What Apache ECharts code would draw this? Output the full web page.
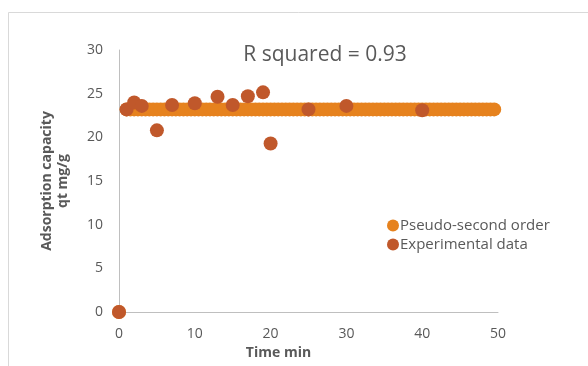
<!DOCTYPE html>
<html><head><meta charset="utf-8">
<script src="https://cdn.jsdelivr.net/npm/echarts@6/dist/echarts.min.js"></script>
<style>html,body{margin:0;padding:0;background:#fff}#c{width:588px;height:366px}</style>
</head><body><div id="c"></div>
<script>
// Experimental data
const expTime = [0, 1, 2, 3, 5, 7, 10, 13, 15, 17, 19, 20, 25, 30, 40];
const expQt   = [0, 23.2, 24.0, 23.6, 20.8, 23.7, 23.9, 24.65, 23.7, 24.7, 25.15, 19.3, 23.2, 23.6, 23.1];
// Pseudo-second order model (dense points, as plotted)
const modelTime = [0, 1, 1.5, 2, 2.5, 3, 3.5, 4, 4.5, 5, 5.5, 6, 6.5, 7, 7.5, 8, 8.5, 9, 9.5, 10, 10.5, 11, 11.5, 12, 12.5, 13, 13.5, 14, 14.5, 15, 15.5, 16, 16.5, 17, 17.5, 18, 18.5, 19, 19.5, 20, 20.5, 21, 21.5, 22, 22.5, 23, 23.5, 24, 24.5, 25, 25.5, 26, 26.5, 27, 27.5, 28, 28.5, 29, 29.5, 30, 30.5, 31, 31.5, 32, 32.5, 33, 33.5, 34, 34.5, 35, 35.5, 36, 36.5, 37, 37.5, 38, 38.5, 39, 39.5, 40, 40.5, 41, 41.5, 42, 42.5, 43, 43.5, 44, 44.5, 45, 45.5, 46, 46.5, 47, 47.5, 48, 48.5, 49, 49.5];
const modelQt   = [0, 23.2, 23.2, 23.2, 23.2, 23.2, 23.2, 23.2, 23.2, 23.2, 23.2, 23.2, 23.2, 23.2, 23.2, 23.2, 23.2, 23.2, 23.2, 23.2, 23.2, 23.2, 23.2, 23.2, 23.2, 23.2, 23.2, 23.2, 23.2, 23.2, 23.2, 23.2, 23.2, 23.2, 23.2, 23.2, 23.2, 23.2, 23.2, 23.2, 23.2, 23.2, 23.2, 23.2, 23.2, 23.2, 23.2, 23.2, 23.2, 23.2, 23.2, 23.2, 23.2, 23.2, 23.2, 23.2, 23.2, 23.2, 23.2, 23.2, 23.2, 23.2, 23.2, 23.2, 23.2, 23.2, 23.2, 23.2, 23.2, 23.2, 23.2, 23.2, 23.2, 23.2, 23.2, 23.2, 23.2, 23.2, 23.2, 23.2, 23.2, 23.2, 23.2, 23.2, 23.2, 23.2, 23.2, 23.2, 23.2, 23.2, 23.2, 23.2, 23.2, 23.2, 23.2, 23.2, 23.2, 23.2, 23.2];
const xTicks = [0, 10, 20, 30, 40, 50];
const yTicks = [0, 5, 10, 15, 20, 25, 30];
const titleText = 'R squared = 0.93';

const FONT = '"Open Sans", Lato, sans-serif';
const chart = echarts.init(document.getElementById('c'), null, {renderer: 'canvas'});
chart.setOption({
  animation: false,
  backgroundColor: '#fff',
  textStyle: {fontFamily: FONT},
  title: {
    text: titleText, left: 320, top: 40, textAlign: 'center',
    textStyle: {fontFamily: FONT, fontSize: 21, fontWeight: 'normal', color: '#595959'}
  },
  graphic: [{
    type: 'rect', shape: {x: 8.5, y: 12.5, width: 620, height: 400},
    style: {fill: 'none', stroke: '#D9D9D9', lineWidth: 1}, silent: true, z: -1
  }],
  legend: {
    orient: 'vertical', left: 382, top: 213, itemWidth: 12, itemHeight: 12, itemGap: 4,
    icon: 'circle',
    textStyle: {fontFamily: FONT, fontSize: 15, color: '#595959', padding: [0, 0, 0, -4]},
    data: ['Pseudo-second order', 'Experimental data']
  },
  grid: {left: 119, right: 90, top: 50, bottom: 54},
  xAxis: {
    type: 'value', min: xTicks[0], max: xTicks[xTicks.length - 1], interval: 10,
    name: 'Time min', nameLocation: 'middle', nameGap: 32,
    nameTextStyle: {fontFamily: FONT, fontSize: 14, fontWeight: 'bold', color: '#595959', padding: [0, 60, 0, 0]},
    axisLine: {lineStyle: {color: '#BFBFBF', width: 1}},
    axisTick: {show: false}, splitLine: {show: false},
    axisLabel: {fontFamily: FONT, fontSize: 14, color: '#595959', margin: 15}
  },
  yAxis: {
    type: 'value', min: yTicks[0], max: yTicks[yTicks.length - 1], interval: 5,
    name: 'Adsorption capacity\nqt mg/g', nameLocation: 'middle', nameGap: 48,
    nameTextStyle: {fontFamily: FONT, fontSize: 14, fontWeight: 'bold', color: '#595959', lineHeight: 16},
    axisLine: {show: true, lineStyle: {color: '#BFBFBF', width: 1}},
    axisTick: {show: false}, splitLine: {show: false},
    axisLabel: {fontFamily: FONT, fontSize: 14, color: '#595959', margin: 16}
  },
  series: [
    {
      name: 'Pseudo-second order', type: 'scatter', symbol: 'circle', symbolSize: 14,
      itemStyle: {color: '#E6821E', opacity: 1},
      data: modelTime.map((t, i) => [t, modelQt[i]]), z: 2
    },
    {
      name: 'Experimental data', type: 'scatter', symbol: 'circle', symbolSize: 14,
      itemStyle: {color: '#C0582B', opacity: 1},
      data: expTime.map((t, i) => [t, expQt[i]]), z: 3
    }
  ]
});
</script></body></html>
